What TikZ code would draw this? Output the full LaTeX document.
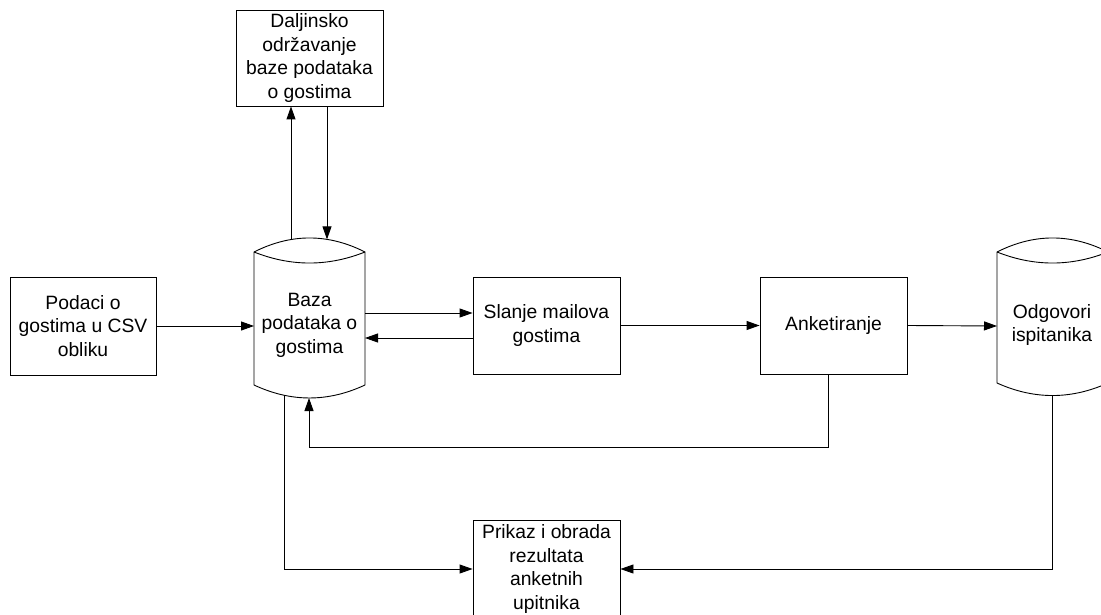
\documentclass[tikz,border=0pt]{standalone}
\usepackage{fontspec}
\setmainfont{Liberation Sans}
\usetikzlibrary{arrows.meta}
\begin{document}
\begin{tikzpicture}[x=1pt,y=-1pt,
  box/.style={draw, line width=0.9pt, minimum width=147pt, minimum height=97pt, align=center, inner sep=2pt,
    font=\fontsize{19.3}{23.5}\selectfont},
  cyltext/.style={align=center, inner sep=0pt, font=\fontsize{19.3}{23.5}\selectfont},
  shapeline/.style={line width=0.9pt},
  conn/.style={line width=0.9pt, -{Triangle[length=13pt,width=9pt]}},
  plain/.style={line width=0.9pt}]
\clip (0,0) rectangle (1101,615);
\fill[white] (0,0) rectangle (1101,615);

% boxes
\node[box, minimum width=146pt, minimum height=98pt] (podaci) at (83,326) {Podaci o\\gostima u CSV\\obliku};
\node[box, minimum height=96pt] (dalj) at (309.5,58) {Daljinsko\\održavanje\\baze podataka\\o gostima};
\node[box] (slanje) at (546.5,325.5) {Slanje mailova\\gostima};
\node[box] (anket) at (833.5,325.5) {Anketiranje};
\node[box, minimum height=98pt] (prikaz) at (546.5,569) {Prikaz i obrada\\rezultata\\anketnih\\upitnika};

% cylinder: Baza
\node[cyltext] (baza) at (309.5,325) {Baza\\podataka o\\gostima};
\draw[shapeline] (254,252) .. controls (291,233.3) and (328,233.3) .. (365,252)
  -- (365,385) .. controls (328,402.3) and (291,402.3) .. (254,385) -- cycle;
\draw[shapeline] (254,252) .. controls (291,266.7) and (328,266.7) .. (365,252);

% cylinder: Odgovori
\node[cyltext] (odg) at (1052,325) {Odgovori\\ispitanika};
\draw[shapeline] (997,252) .. controls (1034,233.3) and (1071,233.3) .. (1108,252)
  -- (1108,383) .. controls (1071,399.7) and (1034,399.7) .. (997,383) -- cycle;
\draw[shapeline] (997,252) .. controls (1034,266.7) and (1071,266.7) .. (1108,252);

% anchor coordinates on the cylinders
\coordinate (bazaL) at (254,326);
\coordinate (bazaR1) at (365,313);
\coordinate (bazaR2) at (365,338);
\coordinate (bazaT1) at (291,239.6);
\coordinate (bazaT2) at (327,239.4);
\coordinate (bazaB1) at (284,395.3);
\coordinate (bazaB2) at (309,398);
\coordinate (odgL) at (997,326);
\coordinate (odgB) at (1052,395);

% connectors
\draw[conn] (podaci.east |- bazaL) -- (bazaL);
\draw[conn] (bazaR1) -- (slanje.west |- bazaR1);
\draw[conn] (slanje.west |- bazaR2) -- (bazaR2);
\draw[conn] (slanje.east |- anket.west) -- (anket.west);
\draw[conn] (anket.east) -- (odgL);
\draw[conn] (bazaT1) -- (bazaT1 |- dalj.south);
\draw[conn] (bazaT2 |- dalj.south) -- (bazaT2);
\draw[conn] (anket.south -| 828,0) -- (828,447) -- (bazaB2 |- 0,447) -- (bazaB2);
\draw[conn] (bazaB1) -- (bazaB1 |- prikaz.west) -- (prikaz.west);
\draw[conn] (odgB) -- (odgB |- prikaz.east) -- (prikaz.east);
\end{tikzpicture}
\end{document}
